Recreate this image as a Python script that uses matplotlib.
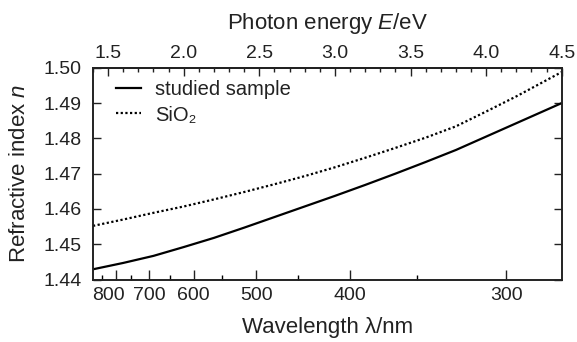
import numpy as np
import matplotlib
matplotlib.use("Agg")
import matplotlib.pyplot as plt
import matplotlib.transforms as mtransforms
from matplotlib.ticker import MultipleLocator

plt.rcParams["font.family"] = ["Liberation Sans", "DejaVu Sans"]
plt.rcParams["mathtext.fontset"] = "custom"
plt.rcParams["mathtext.rm"] = "Liberation Sans"
plt.rcParams["mathtext.it"] = "Liberation Sans:italic"

# photon energy (eV)
energy = [1.40, 1.6, 1.8, 2.0, 2.2, 2.4, 2.6, 2.8, 3.0, 3.2, 3.4, 3.6, 3.8, 4.0, 4.2, 4.4, 4.5]
n_sample = [1.4429, 1.4447, 1.4467, 1.4492, 1.4518, 1.4547, 1.4577, 1.4607, 1.4637,
            1.4668, 1.4700, 1.4733, 1.4767, 1.4805, 1.4843, 1.4881, 1.4900]
n_sio2 = [1.4552, 1.4570, 1.4589, 1.4607, 1.4627, 1.4648, 1.4670, 1.4693, 1.4718,
          1.4745, 1.4773, 1.4802, 1.4834, 1.4876, 1.4919, 1.4965, 1.4988]

wl_major = [800, 700, 600, 500, 400, 300]
wl_minor = [850, 750, 650, 550, 450, 350]
HC = 1239.84  # eV*nm

TXT = "#222222"

fig = plt.figure(figsize=(5.77, 3.42), dpi=100)
ax = fig.add_axes([0.1612, 0.1827, 0.8123, 0.6191])

ax.plot(energy, n_sample, color="black", lw=1.6, label="studied sample")
ax.plot(energy, n_sio2, color="black", lw=1.6, ls=(0, (1, 1.1)), label="SiO₂")

ax.set_xlim(1.40, 4.5)
ax.set_ylim(1.44, 1.50)
yt = np.arange(1.44, 1.501, 0.01)
ax.set_yticks(yt)
ax.set_yticklabels([f"{v:.2f}" for v in yt])

# bottom axis: wavelength labels at the matching energies
ax.set_xticks([HC / w for w in wl_major])
ax.set_xticklabels([str(w) for w in wl_major])
ax.set_xticks([HC / w for w in wl_minor], minor=True)

ax.tick_params(axis="x", which="major", direction="in", length=7, width=1,
               labelsize=14, pad=5.5, colors=TXT)
ax.tick_params(axis="x", which="minor", direction="in", length=3.5, width=1)
ax.tick_params(axis="y", which="major", direction="in", length=6, width=1,
               labelsize=14, pad=8, right=True, colors=TXT)
for s in ax.spines.values():
    s.set_linewidth(1.4)
    s.set_color(TXT)

# nudge the crowded 800 label to the left like in the original
lab800 = ax.get_xticklabels()[0]
lab800.set_transform(lab800.get_transform() +
                     mtransforms.ScaledTranslation(-7 / 100, 0, fig.dpi_scale_trans))

sec = ax.secondary_xaxis("top")
sec.set_xticks([1.5, 2.0, 2.5, 3.0, 3.5, 4.0, 4.5])
sec.xaxis.set_minor_locator(MultipleLocator(0.1))
sec.tick_params(which="major", direction="in", length=6, width=1,
                labelsize=14, pad=4, colors=TXT)
sec.tick_params(which="minor", direction="in", length=3, width=1, colors=TXT)
sec.spines["top"].set_linewidth(1.4)
sec.spines["top"].set_color(TXT)
sec.set_xlabel("Photon energy $E$/eV", fontsize=16, labelpad=12, color=TXT)

ax.set_xlabel("Wavelength λ/nm", fontsize=16, labelpad=9, color=TXT)
ax.set_ylabel("Refractive index $n$", fontsize=16, labelpad=10, color=TXT)

leg = ax.legend(loc="upper left", frameon=False, fontsize=14.5, handlelength=1.25,
                handletextpad=0.68, labelspacing=0.3, borderaxespad=0,
                borderpad=0, bbox_to_anchor=(0.049, 0.94))
for t in leg.get_texts():
    t.set_color(TXT)

fig.savefig("out.png", dpi=100)
